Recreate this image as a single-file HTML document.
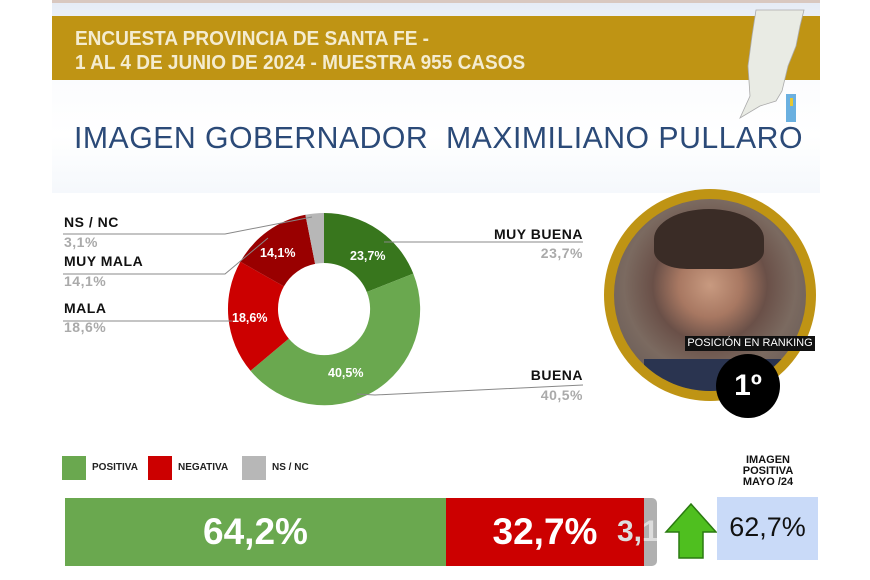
<!DOCTYPE html>
<html><head><meta charset="utf-8"><style>
html,body{margin:0;padding:0}
body{width:870px;height:580px;position:relative;overflow:hidden;background:#fff;font-family:"Liberation Sans",sans-serif}
.a{position:absolute}
.lb{position:absolute;font-weight:bold;font-size:14px;color:#111;letter-spacing:0.5px}
.lv{position:absolute;font-weight:bold;font-size:14px;color:#aaa;letter-spacing:0.5px}
</style></head><body>
<div class="a" style="left:52px;top:0;width:768px;height:3px;background:#d9c8c0"></div>
<div class="a" style="left:52px;top:3px;width:768px;height:190px;background:linear-gradient(#e6ecf6,#fbfcfe 40%,#fff 70%,#f5f8fc)"></div>
<div class="a" style="left:52px;top:16px;width:768px;height:64px;background:#bf9414"></div>
<div class="a" style="left:75px;top:27px;color:#f4ecd0;font-size:20px;font-weight:bold;line-height:24px;transform:scaleX(0.95);transform-origin:left;white-space:nowrap">ENCUESTA PROVINCIA DE SANTA FE -<br>1 AL 4 DE JUNIO DE 2024 - MUESTRA 955 CASOS</div>
<svg class="a" style="left:730px;top:6px" width="80" height="118"><polygon points="26,4 74,4 70,20 66,40 58,60 52,85 46,95 30,100 10,112 20,90 18,60 22,30" fill="#e9ebe4" stroke="#aaa" stroke-width="0.8"/><rect x="56" y="88" width="10" height="28" fill="#6ab0e0"/><rect x="60" y="92" width="3" height="8" fill="#e8c830"/></svg>
<div class="a" style="left:74px;top:120px;font-size:31px;color:#2b4a78;letter-spacing:0.5px;transform:scaleX(0.975);transform-origin:left;white-space:nowrap">IMAGEN GOBERNADOR&nbsp; MAXIMILIANO PULLARO</div>

<svg class="a" style="left:0;top:0" width="600" height="430">
<g transform="translate(324,309)">
<path d="M0,-96 A96,96 0 0 1 89.3,-35.4 L42.8,-17 A46,46 0 0 0 0,-46Z" fill="#38761d"/>
<path d="M89.3,-35.4 A96,96 0 0 1 -73.5,61.8 L-35.2,29.6 A46,46 0 0 0 42.8,-17Z" fill="#6aa84f"/>
<path d="M-73.5,61.8 A96,96 0 0 1 -83.6,-47.2 L-40.1,-22.6 A46,46 0 0 0 -35.2,29.6Z" fill="#cc0000"/>
<path d="M-83.6,-47.2 A96,96 0 0 1 -18.6,-94.2 L-8.9,-45.1 A46,46 0 0 0 -40.1,-22.6Z" fill="#990000"/>
<path d="M-18.6,-94.2 A96,96 0 0 1 0,-96 L0,-46 A46,46 0 0 0 -8.9,-45.1Z" fill="#b7b7b7"/>
</g>
<g font-family="Liberation Sans" font-weight="bold" font-size="12.5" fill="#fff">
<text x="350" y="260">23,7%</text><text x="328" y="377">40,5%</text>
<text x="232" y="322">18,6%</text><text x="260" y="257">14,1%</text></g>
<g stroke="#888" stroke-width="1" fill="none">
<polyline points="63,234 225,234 312,217"/>
<polyline points="63,274 225,274 268,238"/>
<polyline points="63,321 232,321"/>
<polyline points="384,242 583,242"/>
<polyline points="357,394 375,395 583,385"/>
</g>
</svg>
<div class="lb" style="left:64px;top:214px">NS / NC</div><div class="lv" style="left:64px;top:234px">3,1%</div>
<div class="lb" style="left:64px;top:253px">MUY MALA</div><div class="lv" style="left:64px;top:273px">14,1%</div>
<div class="lb" style="left:64px;top:300px">MALA</div><div class="lv" style="left:64px;top:319px">18,6%</div>
<div class="lb" style="left:470px;top:226px;width:113px;text-align:right">MUY BUENA</div><div class="lv" style="left:470px;top:245px;width:113px;text-align:right">23,7%</div>
<div class="lb" style="left:470px;top:367px;width:113px;text-align:right">BUENA</div><div class="lv" style="left:470px;top:387px;width:113px;text-align:right">40,5%</div>

<div class="a" style="left:604px;top:189px;width:192px;height:192px;border-radius:50%;border:10px solid #bf9414;background:radial-gradient(circle at 50% 45%,#c89a80 0,#a87862 22%,#6a5048 40%,#7b6a60 60%,#5a5050 100%);overflow:hidden">
<div class="a" style="left:40px;top:10px;width:110px;height:60px;border-radius:50% 50% 30% 30%;background:#3a2c26"></div>
<div class="a" style="left:30px;top:160px;width:140px;height:40px;background:#2a3450"></div>
</div>
<div class="a" style="left:685px;top:336px;width:130px;height:15px;background:#111;color:#fff;font-size:11px;line-height:15px;text-align:center;white-space:nowrap">POSICIÓN EN RANKING</div>
<div class="a" style="left:716px;top:354px;width:64px;height:64px;border-radius:50%;background:#000;color:#fff;font-size:30px;font-weight:bold;line-height:64px;text-align:center">1º</div>

<div class="a" style="left:62px;top:456px;width:24px;height:24px;background:#6aa84f"></div>
<div class="a" style="left:92px;top:462px;font-size:10px;font-weight:bold;color:#222">POSITIVA</div>
<div class="a" style="left:148px;top:456px;width:24px;height:24px;background:#cc0000"></div>
<div class="a" style="left:178px;top:462px;font-size:10px;font-weight:bold;color:#222">NEGATIVA</div>
<div class="a" style="left:242px;top:456px;width:24px;height:24px;background:#b7b7b7"></div>
<div class="a" style="left:272px;top:462px;font-size:10px;font-weight:bold;color:#222">NS / NC</div>
<div class="a" style="left:718px;top:455px;width:100px;text-align:center;font-size:11px;font-weight:bold;line-height:11px;color:#111">IMAGEN<br>POSITIVA<br>MAYO /24</div>

<div class="a" style="left:65px;top:498px;width:381px;height:68px;background:#6aa84f;color:#fff;font-size:37px;font-weight:bold;line-height:68px;text-align:center">64,2%</div>
<div class="a" style="left:446px;top:498px;width:198px;height:68px;background:#cc0000;color:#fff;font-size:37px;font-weight:bold;line-height:68px;text-align:center">32,7%</div>
<div class="a" style="left:644px;top:498px;width:13px;height:68px;background:#b0b0b0;border-radius:0 5px 5px 0"></div>
<div class="a" style="left:617px;top:498px;width:40px;height:68px;overflow:hidden"><div style="position:absolute;left:0;top:0;color:#ddd;font-size:30px;font-weight:bold;line-height:68px">3,1</div></div>
<svg class="a" style="left:664px;top:502px" width="54" height="58"><polygon points="27,2 52,30 39,30 39,56 15,56 15,30 2,30" fill="#4fbf1f" stroke="#2a7a10" stroke-width="1.5"/></svg>
<div class="a" style="left:717px;top:497px;width:101px;height:63px;background:#c9daf8;color:#111;font-size:27px;line-height:60px;text-align:center">62,7%</div>
</body></html>
